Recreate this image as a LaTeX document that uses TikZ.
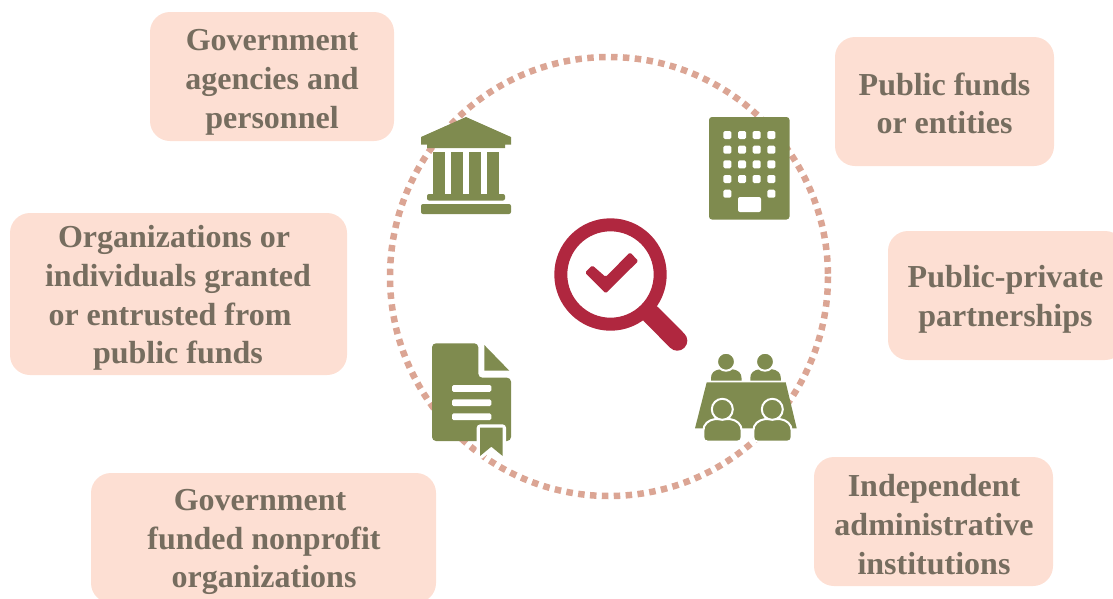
\documentclass[tikz,border=0pt]{standalone}
\usepackage{fontspec}
\setmainfont{Liberation Serif}
\definecolor{boxfill}{HTML}{FDDFD3}
\definecolor{boxtext}{HTML}{766D5F}
\definecolor{ringcol}{HTML}{DBA594}
\definecolor{iconcol}{HTML}{7F8B4F}
\definecolor{lenscol}{HTML}{B0273F}
\tikzset{
  infobox/.style={fill=boxfill,rounded corners=20pt,inner sep=0pt},
  infotext/.style={align=center,text=boxtext,inner sep=0pt,font=\fontsize{32}{38.7}\selectfont\bfseries},
  icon/.style={fill=iconcol,draw=none},
  gap/.style={fill=white,draw=none},
  person/.style={fill=iconcol,draw=white,line width=2pt}
}
\begin{document}
\begin{tikzpicture}[x=1pt,y=-1pt]
\useasboundingbox (0,0) rectangle (1113,598);
\clip (0,0) rectangle (1113,598);
\node[infobox,minimum width=244pt,minimum height=129pt] (agencies) at (272,76.5){};
\node[infotext] (agenciestext) at (272,82.5){Government\\agencies and\\personnel};
\node[infobox,minimum width=219pt,minimum height=129pt] (funds) at (944.5,101.5){};
\node[infotext] (fundstext) at (944.5,103.5){Public funds\\or entities};
\node[infobox,minimum width=237pt,minimum height=129pt] (partners) at (1006.5,295.5){};
\node[infotext] (partnerstext) at (1005.5,299.5){Public-private\\partnerships};
\node[infobox,minimum width=337pt,minimum height=162pt] (entrusted) at (178.5,294){};
\node[infotext] (entrustedtext) at (178,298){\mbox{Organizations or\kern8pt}\\individuals granted\\\mbox{or entrusted from\kern16pt}\\public funds};
\node[infobox,minimum width=345pt,minimum height=130pt] (nonprofit) at (263.5,538){};
\node[infotext] (nonprofittext) at (264,542){\mbox{Government\kern8pt}\\funded nonprofit\\organizations};
\node[infobox,minimum width=239pt,minimum height=129pt] (independent) at (933.5,521.5){};
\node[infotext] (independenttext) at (934,524.5){Independent\\administrative\\institutions};
\draw[ringcol,line width=6.5pt,dash pattern=on 6.5pt off 5.4pt] (609,276.5) ellipse (219 and 219.5);
\fill[icon] (466,117)--(511,137)--(511,144.5)--(505,144.5)--(505,148)--(427,148)--(427,144.5)--(421,144.5)--(421,137)--cycle;
\foreach \colx in {433,451,469,487}
  \fill[icon] (\colx,152) rectangle ++(12,42);
\fill[icon,rounded corners=2pt] (427,200.5)--(427,194)--(505,194)--(505,200.5)--cycle;
\fill[icon,rounded corners=2pt] (421,214)--(421,204)--(511,204)--(511,214)--cycle;
\fill[icon,rounded corners=3pt] (709,117) rectangle (789.5,219.5);
\foreach \winx in {727.3,742,756.7,771.3}
  \foreach \winy in {135,149.7,164.3,179}
    \fill[gap,rounded corners=1.5pt] (\winx-4,\winy-4) rectangle ++(8,8);
\foreach \winx in {727.3,771.3}
  \fill[gap,rounded corners=1.5pt] (\winx-4,189.7) rectangle ++(8,8);
\fill[gap,rounded corners=2pt] (738,197) rectangle (761,212);
\draw[lenscol,line width=13pt] (610.5,274.5) circle (49.7);
\draw[lenscol,line width=20pt,line cap=round] (650.7,314)--(677.3,340.7);
\fill[lenscol,rounded corners=1.5pt] (585,272.7)--(592.3,265.3)--(605.7,277)--(630,252.3)--(638.3,261)--(605.7,293.3)--cycle;
\fill[icon,rounded corners=4pt] (432,343.3)--(478.3,343.3)--(478.3,377.7)--(511,377.7)--(511,441)--(432,441)--cycle;
\fill[icon] (484.3,345)--(509.3,370.7)--(484.3,370.7)--cycle;
\foreach \liney in {385,399.3,413.3}
  \fill[gap,rounded corners=1.5pt] (452,\liney) rectangle ++(39.3,6.8);
\draw[icon,draw=white,line width=6.6pt,line join=round] (480,427.7)--(502.7,427.7)--(502.7,456)--(491.3,446.7)--(480,456)--cycle;
\fill[icon] (480,427.7)--(502.7,427.7)--(502.7,456)--(491.3,446.7)--(480,456)--cycle;
\fill[icon] (706.7,382.3)--(785.7,382.3)--(796.7,428.3)--(695,428.3)--cycle;
\foreach \headx/\bodyx in {726/711,765/750.3}{
  \fill[icon] (\bodyx,380.7)--(\bodyx,378) .. controls (\bodyx,373) and (\bodyx+3,370) .. (\bodyx+10,369)--(\bodyx+20.5,369) .. controls (\bodyx+27.5,370) and (\bodyx+30.5,373) .. (\bodyx+30.5,378)--(\bodyx+30.5,380.7)--cycle;
  \fill[icon,draw=white,line width=2pt] (\headx,361.7) circle (9);
}
\foreach \headx/\bodyx in {722.3/703.3,772.3/753.3}{
  \draw[person] (\bodyx+4,441.5) .. controls (\bodyx+1,441.5) and (\bodyx,440) .. (\bodyx,437)--(\bodyx,431) .. controls (\bodyx,424) and (\bodyx+5,420) .. (\bodyx+12,419)--(\bodyx+26.4,419) .. controls (\bodyx+33.4,420) and (\bodyx+38.4,424) .. (\bodyx+38.4,431)--(\bodyx+38.4,437) .. controls (\bodyx+38.4,440) and (\bodyx+37.4,441.5) .. (\bodyx+34.4,441.5)--cycle;
  \draw[person] (\headx,409.3) circle (10.5);
}
\end{tikzpicture}
\end{document}
